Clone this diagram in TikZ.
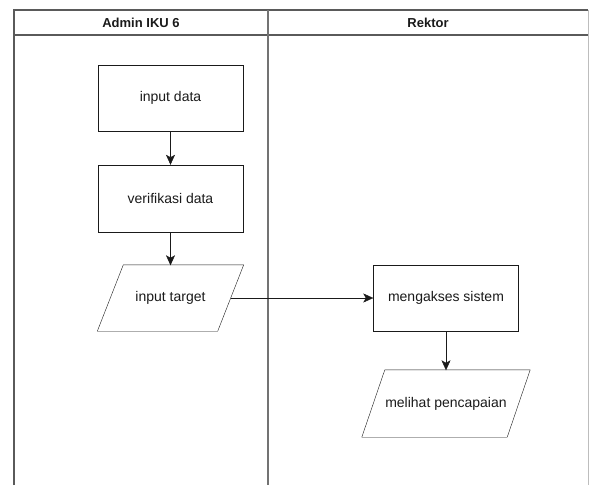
\documentclass[tikz,border=0pt]{standalone}
\usepackage{fontspec}
\setmainfont{Liberation Sans}
\usetikzlibrary{arrows.meta,positioning}
\definecolor{lane}{HTML}{5A5A5A}
\definecolor{ink}{HTML}{1A1A1A}
\tikzset{>={Stealth[length=10pt,width=9pt,inset=2.5pt]},line width=1.4pt,
  every node/.style={font=\fontsize{14}{16}\selectfont,text=ink},
  lanebox/.style={draw=lane,line width=1.3pt},
  lanehead/.style={font=\fontsize{13}{15}\selectfont\bfseries},
  procbox/.style={draw=ink,rectangle,minimum width=145pt,minimum height=66pt,inner sep=0pt},
  iobox/.style={rectangle,minimum height=66pt,inner sep=0pt},
  flow/.style={->,draw=ink}}
% slanted outline round an iobox node: #1 name, #2 half slant
\newcommand\ioframe[2]{\draw[ink] ([xshift=-#2pt]#1.south west)--([xshift=#2pt]#1.north west)
  --([xshift=#2pt]#1.north east)--([xshift=-#2pt]#1.south east)--cycle;}
\begin{document}
\begin{tikzpicture}[x=1pt,y=-1pt]
\useasboundingbox (0,0) rectangle (589,485);
% swimlanes
\draw[lanebox] (14,485)--(14,10)--(588,10);\draw[lane!40,line width=1pt] (588,10)--(588,485);
\draw[lanebox] (14,35)--(588,35);\draw[lanebox,line width=1.8pt,draw=lane!85] (268,10)--(268,485);
\node[lanehead] (admin) at (141,22.5) {Admin IKU 6};
\node[lanehead] (rektor) at (428,22.5) {Rektor};
% Admin IKU 6
\node[procbox] (inputdata) at (170.5,98) {input data};
\node[procbox,minimum height=67pt] (verif) at (170.5,198.5) {verifikasi data};
\node[iobox,minimum width=120pt] (target) at (170.5,298) {input target};\ioframe{target}{13}
% Rektor
\node[procbox] (akses) at (446,298) {mengakses sistem};
\node[iobox,minimum width=145pt,minimum height=67pt] (capai) at (446,403.5) {melihat pencapaian};\ioframe{capai}{11.5}
\draw[flow] (inputdata)--(verif);
\draw[flow] (verif)--([yshift=-0.5pt]target.north);
\draw[flow] (target.east)--(akses.west);
\draw[flow] (akses)--([yshift=-0.5pt]capai.north);
\end{tikzpicture}
\end{document}
